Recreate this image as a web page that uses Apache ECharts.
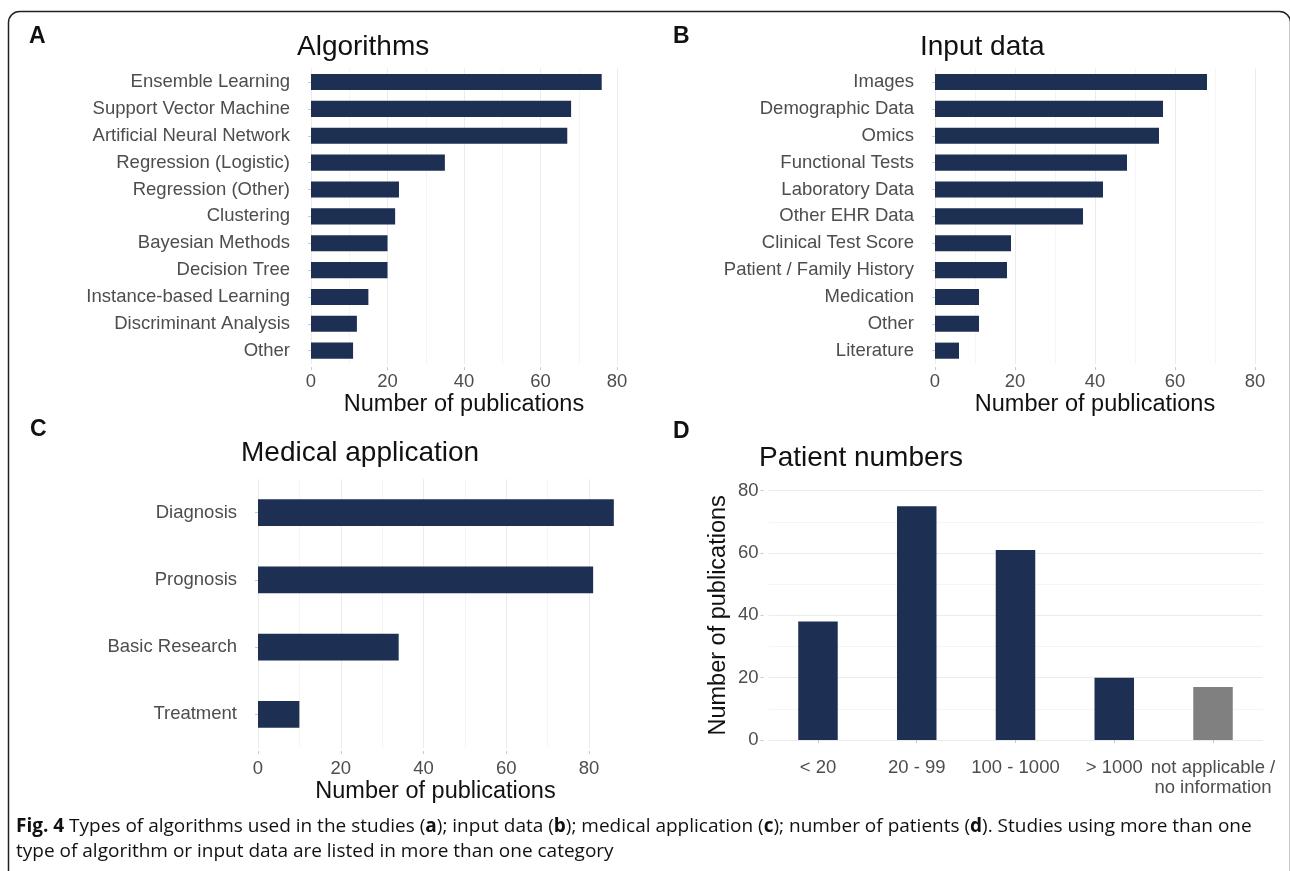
<!DOCTYPE html>
<html lang="en">
<head>
<meta charset="UTF-8">
<title>Fig. 4</title>
<style>
  html, body { margin: 0; padding: 0; background: #fff; }
  #main { width: 1290px; height: 871px; }
</style>
</head>
<body>
<div id="main"></div>
<script src="https://cdn.jsdelivr.net/npm/echarts@6/dist/echarts.min.js"></script>
<script>
    // A: algorithms
    var algoNames = ['Ensemble Learning', 'Support Vector Machine', 'Artificial Neural Network',
        'Regression (Logistic)', 'Regression (Other)', 'Clustering', 'Bayesian Methods',
        'Decision Tree', 'Instance-based Learning', 'Discriminant Analysis', 'Other'];
    var algoCounts = [76, 68, 67, 35, 23, 22, 20, 20, 15, 12, 11];

    // B: input data
    var inputNames = ['Images', 'Demographic Data', 'Omics', 'Functional Tests', 'Laboratory Data',
        'Other EHR Data', 'Clinical Test Score', 'Patient / Family History', 'Medication', 'Other', 'Literature'];
    var inputCounts = [68, 57, 56, 48, 42, 37, 19, 18, 11, 11, 6];

    // C: medical application
    var appNames = ['Diagnosis', 'Prognosis', 'Basic Research', 'Treatment'];
    var appCounts = [86, 81, 34, 10];

    // D: patient numbers
    var patientGroups = ['< 20', '20 - 99', '100 - 1000', '> 1000', 'not applicable /\nno information'];
    var patientCounts = [38, 75, 61, 20, 17];

    // shared publication count ticks
    var pubTicks = [0, 20, 40, 60, 80];

    var barColor = '#1d2f53';
    var naColor = '#808080';
    var font = '"Liberation Sans", Arial, sans-serif';
    var tickColor = '#4d4d4d';
    var labelSize = 18.5;

    function countAxis(idx, opts) {
        var ax = {
            type: 'value', gridIndex: idx,
            min: pubTicks[0], max: pubTicks[pubTicks.length - 1],
            interval: pubTicks[1] - pubTicks[0],
            axisLine: { show: false },
            axisTick: { show: true, length: 3, lineStyle: { color: '#c8c8c8' } },
            axisLabel: { fontSize: labelSize, color: tickColor, fontFamily: font, margin: 5 },
            splitLine: { show: true, lineStyle: { color: '#ebebeb', width: 1 } },
            minorTick: { show: false, splitNumber: 2 },
            minorSplitLine: { show: true, lineStyle: { color: '#f5f5f5', width: 1 } },
            name: 'Number of publications', nameLocation: 'middle',
            nameTextStyle: { fontSize: 23.5, color: '#111', fontFamily: font }
        };
        for (var k in opts) ax[k] = opts[k];
        return ax;
    }

    function catAxis(idx, names, opts) {
        var ax = {
            type: 'category', gridIndex: idx, data: names,
            axisLine: { show: false },
            axisTick: { show: true, length: 3, alignWithLabel: true, lineStyle: { color: '#c8c8c8' } },
            axisLabel: { fontSize: labelSize, color: tickColor, fontFamily: font, margin: 6, interval: 0 },
            splitLine: { show: false }
        };
        for (var k in opts) ax[k] = opts[k];
        return ax;
    }

    function panelTitle(text, left, top) {
        return {
            text: text, left: left, top: top, padding: 0,
            textStyle: { fontSize: 28, fontWeight: 'normal', color: '#111', fontFamily: font }
        };
    }

    function letter(ch, x, y) {
        return {
            type: 'text', x: x, y: y,
            style: { text: ch, font: 'bold 23px "Liberation Sans", Arial, sans-serif', fill: '#111', verticalAlign: 'middle' }
        };
    }

    var myChart = echarts.init(document.getElementById('main'), null, { renderer: 'canvas' });

    var option = {
        animation: false,
        backgroundColor: '#fff',
        title: [
            panelTitle('Algorithms', 297, 33),
            panelTitle('Input data', 920, 33),
            panelTitle('Medical application', 241, 439),
            panelTitle('Patient numbers', 759, 444)
        ],
        grid: [
            { left: 311, top: 68.6, width: 306, height: 295.5 },
            { left: 935, top: 68.6, width: 320, height: 295.5 },
            { left: 258, top: 479, width: 331, height: 269 },
            { left: 768.6, top: 490.7, width: 493.8, height: 249.3 }
        ],
        xAxis: [
            countAxis(0, { offset: 3, nameGap: 25 }),
            countAxis(1, { offset: 3, nameGap: 25 }),
            countAxis(2, {
                offset: 3, nameGap: 29,
                axisLabel: { fontSize: labelSize, color: tickColor, fontFamily: font, margin: 8 },
                nameTextStyle: { fontSize: 23.5, color: '#111', fontFamily: font, padding: [0, 0, 0, 24] }
            }),
            catAxis(3, patientGroups, {
                offset: 11,
                axisLabel: { fontSize: labelSize, color: tickColor, fontFamily: font, margin: 7, interval: 0, lineHeight: 20 }
            })
        ],
        yAxis: [
            catAxis(0, algoNames, { inverse: true, offset: 15 }),
            catAxis(1, inputNames, { inverse: true, offset: 15 }),
            catAxis(2, appNames, { inverse: true, offset: 15 }),
            countAxis(3, {
                offset: 5, nameGap: 33,
                axisLabel: { fontSize: labelSize, color: tickColor, fontFamily: font, margin: 5 }
            })
        ],
        series: [
            {
                type: 'bar', xAxisIndex: 0, yAxisIndex: 0, data: algoCounts,
                barWidth: '60%', itemStyle: { color: barColor }, silent: true
            },
            {
                type: 'bar', xAxisIndex: 1, yAxisIndex: 1, data: inputCounts,
                barWidth: '60%', itemStyle: { color: barColor }, silent: true
            },
            {
                type: 'bar', xAxisIndex: 2, yAxisIndex: 2, data: appCounts, clip: false,
                barWidth: '40%', itemStyle: { color: barColor }, silent: true
            },
            {
                type: 'bar', xAxisIndex: 3, yAxisIndex: 3, barWidth: '40%', silent: true,
                data: patientCounts.map(function (v, i) {
                    var na = patientGroups[i].indexOf('not applicable') === 0;
                    return { value: v, itemStyle: { color: na ? naColor : barColor } };
                })
            }
        ],
        graphic: [
            {
                type: 'rect', silent: true,
                shape: { x: 8.5, y: 11.5, width: 1282, height: 900, r: 11 },
                style: { fill: 'none', stroke: '#222', lineWidth: 1.5 }
            },
            letter('A', 29, 37),
            letter('B', 673, 37),
            letter('C', 30, 430),
            letter('D', 673, 432),
            {
                type: 'text', x: 16, y: 814, silent: true,
                style: {
                    text: '{b|Fig. 4} Types of algorithms used in the studies ({b|a}); input data ({b|b}); medical application ({b|c}); number of patients ({b|d}). Studies using more than one\ntype of algorithm or input data are listed in more than one category',
                    font: '19px "Open Sans", sans-serif',
                    fill: '#111',
                    lineHeight: 25,
                    rich: {
                        b: { fontWeight: 'bold', fontSize: 19, fontFamily: '"Open Sans", sans-serif', lineHeight: 25 }
                    }
                }
            }
        ]
    };

    myChart.setOption(option);
</script>
</body>
</html>
